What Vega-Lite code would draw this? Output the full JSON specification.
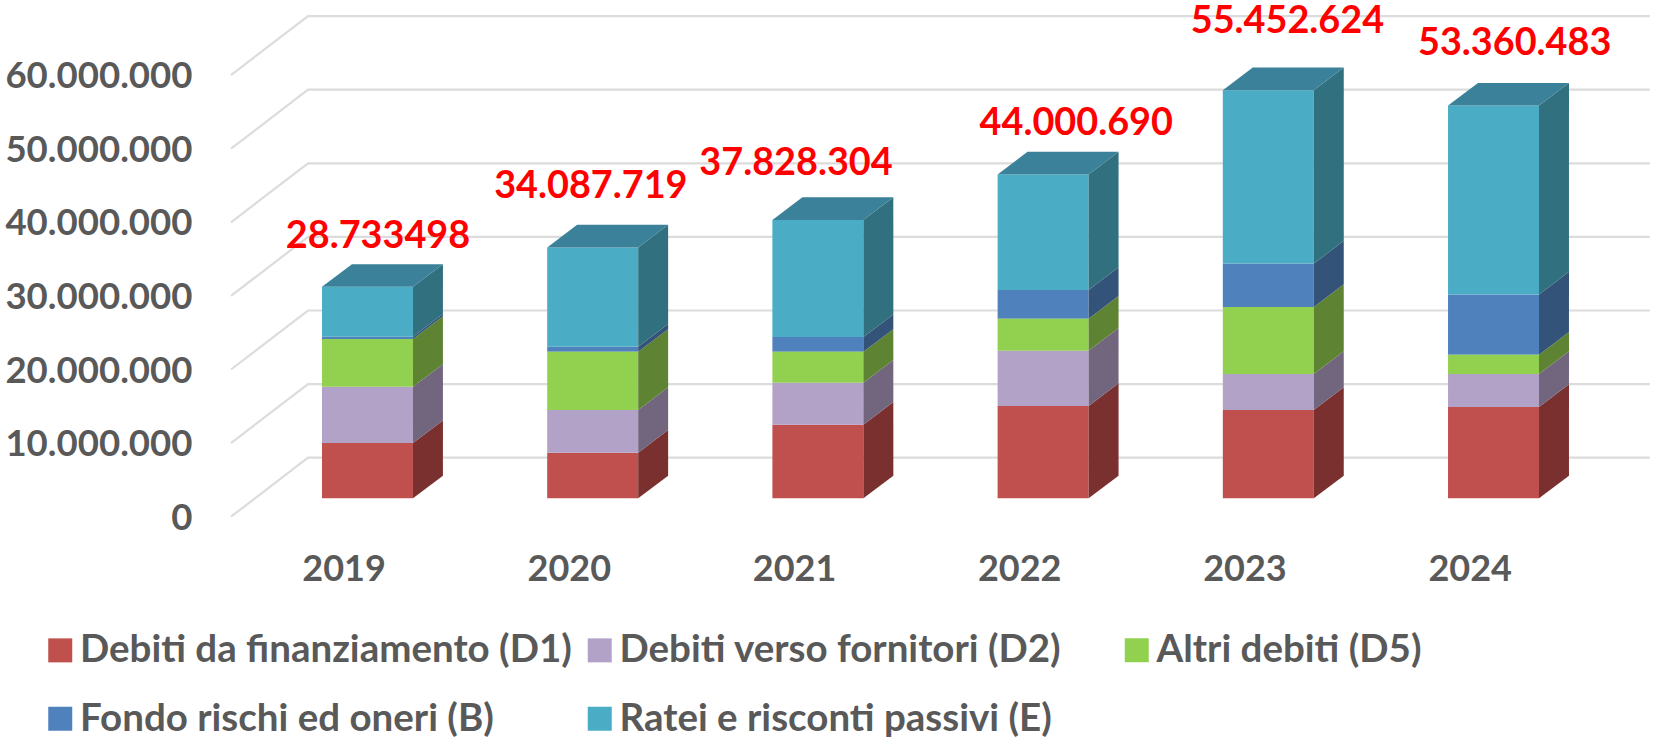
{
"$schema":"https://vega.github.io/schema/vega-lite/v6.json",
"autosize":"none","width":1424,"height":515.2,
"padding":{"left":231,"top":1.5,"right":5,"bottom":221.3},
"background":"white",
"config":{"view":{"stroke":null},"font":"Lato"},
"data":{"values":[
{"year":2019,"ord":1,"series":"Debiti da finanziamento (D1)","value":7500000},
{"year":2019,"ord":2,"series":"Debiti verso fornitori (D2)","value":7650000},
{"year":2019,"ord":3,"series":"Altri debiti (D5)","value":6500000},
{"year":2019,"ord":4,"series":"Fondo rischi ed oneri (B)","value":300000},
{"year":2019,"ord":5,"series":"Ratei e risconti passivi (E)","value":6783498},
{"year":2020,"ord":1,"series":"Debiti da finanziamento (D1)","value":6200000},
{"year":2020,"ord":2,"series":"Debiti verso fornitori (D2)","value":5800000},
{"year":2020,"ord":3,"series":"Altri debiti (D5)","value":7900000},
{"year":2020,"ord":4,"series":"Fondo rischi ed oneri (B)","value":700000},
{"year":2020,"ord":5,"series":"Ratei e risconti passivi (E)","value":13487719},
{"year":2021,"ord":1,"series":"Debiti da finanziamento (D1)","value":10000000},
{"year":2021,"ord":2,"series":"Debiti verso fornitori (D2)","value":5700000},
{"year":2021,"ord":3,"series":"Altri debiti (D5)","value":4200000},
{"year":2021,"ord":4,"series":"Fondo rischi ed oneri (B)","value":2000000},
{"year":2021,"ord":5,"series":"Ratei e risconti passivi (E)","value":15928304},
{"year":2022,"ord":1,"series":"Debiti da finanziamento (D1)","value":12550000},
{"year":2022,"ord":2,"series":"Debiti verso fornitori (D2)","value":7500000},
{"year":2022,"ord":3,"series":"Altri debiti (D5)","value":4350000},
{"year":2022,"ord":4,"series":"Fondo rischi ed oneri (B)","value":3900000},
{"year":2022,"ord":5,"series":"Ratei e risconti passivi (E)","value":15700690},
{"year":2023,"ord":1,"series":"Debiti da finanziamento (D1)","value":12000000},
{"year":2023,"ord":2,"series":"Debiti verso fornitori (D2)","value":4900000},
{"year":2023,"ord":3,"series":"Altri debiti (D5)","value":9100000},
{"year":2023,"ord":4,"series":"Fondo rischi ed oneri (B)","value":5900000},
{"year":2023,"ord":5,"series":"Ratei e risconti passivi (E)","value":23552624},
{"year":2024,"ord":1,"series":"Debiti da finanziamento (D1)","value":12400000},
{"year":2024,"ord":2,"series":"Debiti verso fornitori (D2)","value":4500000},
{"year":2024,"ord":3,"series":"Altri debiti (D5)","value":2600000},
{"year":2024,"ord":4,"series":"Fondo rischi ed oneri (B)","value":8200000},
{"year":2024,"ord":5,"series":"Ratei e risconti passivi (E)","value":25660483}
]},
"transform":[{"stack":"value","groupby":["year"],"sort":[{"field":"ord","order":"ascending"}],"as":["v0","v1"]}],
"encoding":{
"x":{"field":"px","type":"quantitative","title":null,"scale":{"domain":[2018.5,2024.823],"nice":false,"zero":false},
"axis":{"values":[2019,2020,2021,2022,2023,2024],"format":"d","ticks":false,"domain":false,"grid":false,"labelPadding":36,"labelFontSize":36,"labelFontWeight":"bold","labelColor":"#595959","labelFont":"Lato","labelFlush":false,"labelOverlap":false}},
"y":{"field":"lo","type":"quantitative","title":null,"scale":{"domain":[0,70000000],"nice":false},
"axis":{"values":[0,10000000,20000000,30000000,40000000,50000000,60000000],"labelExpr":"replace(format(datum.value,','),/,/g,'.')","ticks":false,"domain":false,"grid":false,"labelPadding":39,"labelOffset":1.5,"labelFontSize":36.6,"labelFontWeight":"bold","labelColor":"#595959","labelFont":"Lato","labelOverlap":false,"labelLimit":400}}
},
"layer":[
{"data":{"values":[{"tick":0},{"tick":10000000},{"tick":20000000},{"tick":30000000},{"tick":40000000},{"tick":50000000},{"tick":60000000}]},
 "transform":[{"calculate":"[0,1,2]","as":"t"},{"flatten":["t"]},
  {"calculate":"datum.t==0?2018.5:(datum.t==1?2018.842:2024.8)","as":"px"},
  {"calculate":"datum.tick+(datum.t==0?0:8016000)","as":"lo"}],
 "mark":{"type":"line","color":"#DCDCDC","strokeWidth":2.2},
 "encoding":{"detail":{"field":"tick"}}},
{"transform":[{"filter":"datum.ord!=3"},{"calculate":"datum.year-0.096","as":"px"},{"calculate":"datum.year+0.308","as":"px2"},
  {"calculate":"datum.v0+2500000","as":"lo"},{"calculate":"datum.v1+2500000","as":"hi"}],
 "mark":{"type":"rect"},
 "encoding":{"x2":{"field":"px2"},"y2":{"field":"hi"},
  "color":{"field":"series","type":"nominal","scale":{"domain":["Debiti da finanziamento (D1)","Debiti verso fornitori (D2)","Fondo rischi ed oneri (B)","Ratei e risconti passivi (E)"],"range":["#C0504D","#B3A2C7","#4F81BD","#4BACC6"]},
   "legend":{"orient":"none","legendX":-190,"legendY":629.5,"direction":"horizontal","columns":2,"title":null,"symbolType":"square","symbolSize":576,"symbolStrokeWidth":0,"labelFontSize":38.5,"labelFontWeight":"bold","labelColor":"#595959","labelFont":"Lato","labelLimit":800,"rowPadding":29.5,"columnPadding":8.5,"labelOffset":0.5,"padding":0}}}},
{"transform":[{"filter":"datum.ord==3"},{"calculate":"datum.year-0.096","as":"px"},{"calculate":"datum.year+0.308","as":"px2"},
  {"calculate":"datum.v0+2500000","as":"lo"},{"calculate":"datum.v1+2500000","as":"hi"}],
 "mark":{"type":"rect"},
 "encoding":{"x2":{"field":"px2"},"y2":{"field":"hi"},
  "color":{"field":"series","type":"nominal","scale":{"domain":["Altri debiti (D5)"],"range":["#92D050"]},
   "legend":{"orient":"none","legendX":886.5,"legendY":629.5,"title":null,"symbolType":"square","symbolSize":576,"symbolStrokeWidth":0,"labelFontSize":38.5,"labelFontWeight":"bold","labelColor":"#595959","labelFont":"Lato","labelLimit":800,"labelOffset":0.5,"padding":0}}}},
{"transform":[{"calculate":"[0,1]","as":"t"},{"flatten":["t"]},
  {"calculate":"datum.year+0.308+datum.t*0.133","as":"px"},
  {"calculate":"datum.v0+2500000+datum.t*3080000","as":"lo"},{"calculate":"datum.v1+2500000+datum.t*3080000","as":"hi"}],
 "mark":{"type":"area"},
 "encoding":{"y2":{"field":"hi"},"detail":{"field":"year"},
  "color":{"field":"series","type":"nominal","legend":null,"scale":{"domain":["Debiti da finanziamento (D1)","Debiti verso fornitori (D2)","Altri debiti (D5)","Fondo rischi ed oneri (B)","Ratei e risconti passivi (E)"],"range":["#7A302E","#72667F","#5E8433","#335378","#31707F"]}}}},
{"transform":[{"filter":"datum.ord==5"},{"calculate":"[0,1,2,3]","as":"t"},{"flatten":["t"]},
  {"calculate":"datum.t==0?datum.year-0.096:(datum.t==1?datum.year+0.037:(datum.t==2?datum.year+0.308:datum.year+0.441))","as":"px"},
  {"calculate":"datum.v1+2500000+(datum.t==3?3080000:0)","as":"lo"},{"calculate":"datum.v1+2500000+(datum.t==0?0:3080000)","as":"hi"}],
 "mark":{"type":"area","color":"#3A8199"},
 "encoding":{"y2":{"field":"hi"},"detail":{"field":"year"}}},
{"data":{"values":[{"year":2019,"total":28733498,"label":"28.733498"}]},
 "transform":[{"calculate":"datum.year","as":"px"},{"calculate":"datum.total","as":"lo"}],
 "mark":{"type":"text","font":"Lato","fontWeight":"bold","fontSize":37.8,"color":"#FF0000","dx":34.4,"dy":-68,"baseline":"middle"},"encoding":{"text":{"field":"label"}}},
{"data":{"values":[{"year":2020,"total":34087719,"label":"34.087.719"}]},
 "transform":[{"calculate":"datum.year","as":"px"},{"calculate":"datum.total","as":"lo"}],
 "mark":{"type":"text","font":"Lato","fontWeight":"bold","fontSize":37.8,"color":"#FF0000","dx":22,"dy":-79,"baseline":"middle"},"encoding":{"text":{"field":"label"}}},
{"data":{"values":[{"year":2021,"total":37828304,"label":"37.828.304"}]},
 "transform":[{"calculate":"datum.year","as":"px"},{"calculate":"datum.total","as":"lo"}],
 "mark":{"type":"text","font":"Lato","fontWeight":"bold","fontSize":37.8,"color":"#FF0000","dx":2,"dy":-74,"baseline":"middle"},"encoding":{"text":{"field":"label"}}},
{"data":{"values":[{"year":2022,"total":44000690,"label":"44.000.690"}]},
 "transform":[{"calculate":"datum.year","as":"px"},{"calculate":"datum.total","as":"lo"}],
 "mark":{"type":"text","font":"Lato","fontWeight":"bold","fontSize":37.8,"color":"#FF0000","dx":57,"dy":-69,"baseline":"middle"},"encoding":{"text":{"field":"label"}}},
{"data":{"values":[{"year":2023,"total":55452624,"label":"55.452.624"}]},
 "transform":[{"calculate":"datum.year","as":"px"},{"calculate":"datum.total","as":"lo"}],
 "mark":{"type":"text","font":"Lato","fontWeight":"bold","fontSize":37.8,"color":"#FF0000","dx":43,"dy":-87,"baseline":"middle"},"encoding":{"text":{"field":"label"}}},
{"data":{"values":[{"year":2024,"total":53360483,"label":"53.360.483"}]},
 "transform":[{"calculate":"datum.year","as":"px"},{"calculate":"datum.total","as":"lo"}],
 "mark":{"type":"text","font":"Lato","fontWeight":"bold","fontSize":37.8,"color":"#FF0000","dx":45,"dy":-80,"baseline":"middle"},"encoding":{"text":{"field":"label"}}}
],
"resolve":{"scale":{"color":"independent"}}
}
